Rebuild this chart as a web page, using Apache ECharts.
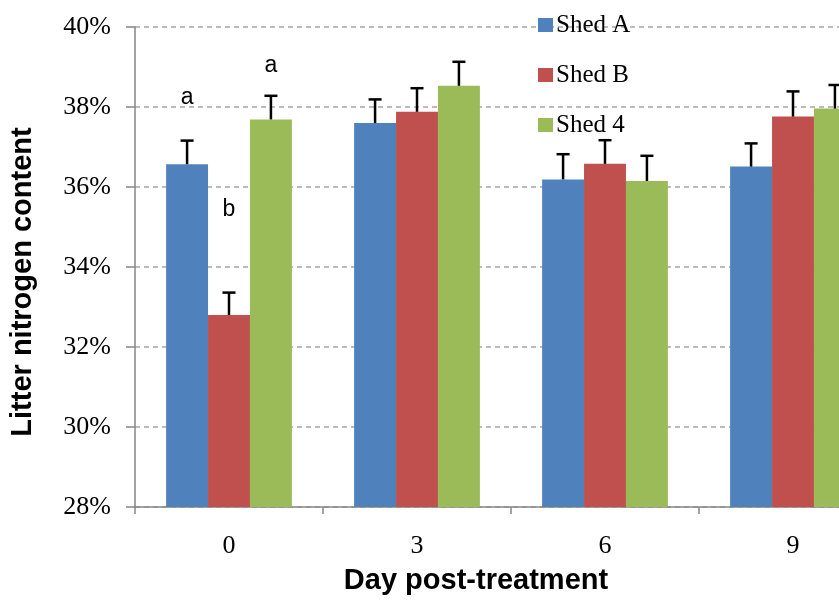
<!DOCTYPE html>
<html>
<head>
<meta charset="utf-8">
<script src="https://cdn.jsdelivr.net/npm/echarts@6/dist/echarts.min.js"></script>
<style>
html,body{margin:0;padding:0;background:#fff;}
#chart{width:839px;height:600px;}
</style>
</head>
<body>
<div id="chart"></div>
<script>
// ---- data ----
const days = ['0', '3', '6', '9'];
const shedNames = ['Shed A', 'Shed B', 'Shed 4'];
const shedA = [36.57, 37.60, 36.19, 36.51];
const shedB = [32.80, 37.88, 36.58, 37.76];
const shed4 = [37.69, 38.53, 36.15, 37.96];
const errA = [0.59, 0.59, 0.63, 0.58];
const errB = [0.56, 0.59, 0.59, 0.63];
const err4 = [0.59, 0.60, 0.63, 0.59];
const letterCat = [0, 0, 0];
const letterShed = [0, 1, 2];
const letterValue = [38.24, 35.43, 39.03];
const letterText = ['a', 'b', 'a'];
const yTicks = [28, 30, 32, 34, 36, 38, 40];

// ---- build ----
const colors = ['#4F81BD', '#C0504D', '#9BBB59'];
const BAR_FRAC = 0.223;
const values = [shedA, shedB, shed4];
const errs = [errA, errB, err4];

const errData = [];
values.forEach((arr, s) => arr.forEach((v, i) => errData.push([i, s, v, errs[s][i]])));
const letterData = letterText.map((t, k) => [letterCat[k], letterShed[k], letterValue[k], t]);

const chart = echarts.init(document.getElementById('chart'), null, {renderer: 'canvas'});

const barSeries = shedNames.map((n, s) => ({
  name: n,
  type: 'bar',
  data: values[s],
  barWidth: (BAR_FRAC * 100) + '%',
  barGap: '0%',
  itemStyle: {color: colors[s]},
  z: 2
}));

const option = {
  animation: false,
  backgroundColor: '#ffffff',
  grid: {left: 135, top: 27, height: 480, width: 752, containLabel: false, outerBoundsMode: 'none'},
  legend: {
    orient: 'vertical',
    left: 533,
    top: 5,
    data: shedNames,
    icon: 'rect',
    itemWidth: 15,
    itemHeight: 14,
    itemGap: 20,
    textStyle: {fontFamily: 'Liberation Serif', fontSize: 25, color: '#000', lineHeight: 30, padding: [0, 0, 0, -2]},
    z: 10
  },
  xAxis: {
    type: 'category',
    data: days,
    axisLine: {lineStyle: {color: '#868686', width: 1.5}},
    axisTick: {show: true, length: 7, lineStyle: {color: '#868686', width: 1.5}},
    axisLabel: {fontFamily: 'Liberation Serif', fontSize: 26, color: '#000', margin: 26},
    splitLine: {show: false}
  },
  yAxis: {
    type: 'value',
    min: 28,
    max: 40,
    interval: 2,
    axisLine: {show: true, lineStyle: {color: '#868686', width: 1.5}},
    axisTick: {show: true, length: 9, lineStyle: {color: '#868686', width: 1.5}},
    axisLabel: {fontFamily: 'Liberation Serif', fontSize: 26, color: '#000', margin: 24,
      formatter: v => yTicks.includes(v) ? v + '%' : ''},
    splitLine: {show: true, lineStyle: {color: '#a6a6a6', width: 1.5, type: [5, 4]}}
  },
  graphic: [
    {type: 'text', x: 476, y: 581, style: {text: 'Day post-treatment', fontFamily: 'Liberation Sans', fontWeight: 'bold', fontSize: 29, fill: '#000', textAlign: 'center', textVerticalAlign: 'middle'}},
    {type: 'text', x: 23, y: 282, rotation: Math.PI / 2, style: {text: 'Litter nitrogen content', fontFamily: 'Liberation Sans', fontWeight: 'bold', fontSize: 29, fill: '#000', textAlign: 'center', textVerticalAlign: 'middle'}}
  ],
  series: barSeries.concat([
    {
      name: 'err',
      type: 'custom',
      data: errData,
      encode: {x: 0, y: [2, 3]},
      z: 3,
      renderItem: function (params, api) {
        const cat = api.value(0), s = api.value(1), v = api.value(2), e = api.value(3);
        const bw = api.size([1, 0])[0] * BAR_FRAC;
        const base = api.coord([cat, v]);
        const top = api.coord([cat, v + e]);
        const x = base[0] + (s - 1) * bw;
        const cap = 13;
        return {type: 'group', children: [
          {type: 'line', shape: {x1: x, y1: base[1], x2: x, y2: top[1]}, style: {stroke: '#000', lineWidth: 2.5}},
          {type: 'line', shape: {x1: x - cap / 2, y1: top[1], x2: x + cap / 2, y2: top[1]}, style: {stroke: '#000', lineWidth: 2.5}}
        ]};
      }
    },
    {
      name: 'letters',
      type: 'custom',
      data: letterData,
      encode: {x: 0, y: 2},
      z: 4,
      renderItem: function (params, api) {
        const cat = api.value(0), s = api.value(1), v = api.value(2);
        const t = letterText[params.dataIndex];
        const bw = api.size([1, 0])[0] * BAR_FRAC;
        const p = api.coord([cat, v]);
        return {type: 'text', x: p[0] + (s - 1) * bw, y: p[1], style: {text: t, fontFamily: 'Liberation Sans', fontSize: 23, fill: '#000', textAlign: 'center', textVerticalAlign: 'middle'}};
      }
    }
  ])
};
chart.setOption(option);
</script>
</body>
</html>
